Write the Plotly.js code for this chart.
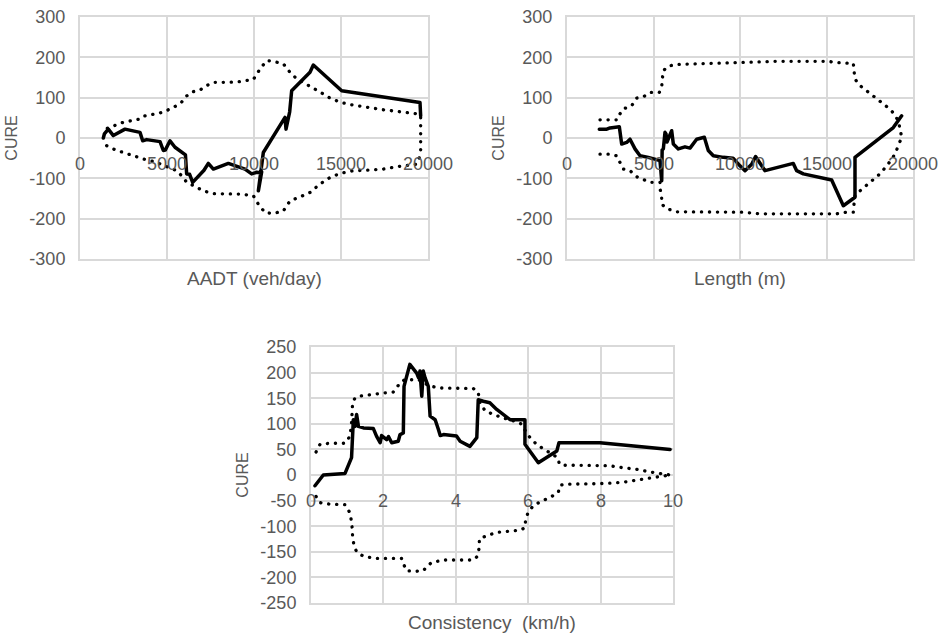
<!DOCTYPE html>
<html>
<head>
<meta charset="utf-8">
<script src="https://cdn.plot.ly/plotly-3.0.1.min.js"></script>
<style>
html,body{margin:0;padding:0;background:#fff;}
#chart{width:943px;height:635px;}
#chart path.js-line{stroke-linecap:round;stroke-linejoin:round;}
</style>
</head>
<body>
<div id="chart"></div>
<script>
// ---- AADT panel ----
const aadtX = [1341,1400,1628,1916,2586,3448,3602,3831,4598,4789,4900,5172,5460,5939,6060,6130,6300,6475,6897,7126,7375,7663,8525,9483,9866,10153,10400,10440,10250,10536,11782,11839,12050,12164,13218,13410,15040,19540,19578];
const aadtY = [0,10,22,6,22,14,-7,-4,-9,-31,-30,-7,-23,-40,-42,-89,-90,-110,-89,-80,-63,-77,-63,-77,-89,-85,-86,-84,-131,-36,51,22,65,117,163,181,117,88,55];
const aadtUpX = [1571,2011,2490,2969,3448,3640,4119,4598,4981,5460,5843,6034,6418,6897,7280,7663,8429,9195,9962,10345,10728,11111,11686,12069,12452,12835,13314,13793,14368,14943,15517,16475,17433,18391,19349,19578,19578,19578,19578];
const aadtUpY = [24,31,39,43,47,54,57,62,68,78,89,101,114,119,130,138,138,140,145,171,192,190,184,163,147,138,126,114,99,89,83,76,70,65,60,56,27,-15,-40];
const aadtLoX = [1533,2011,2490,3065,3640,4310,4981,5556,5939,6130,6513,7088,7663,8429,9195,9962,10249,10632,11111,11686,12069,12644,13218,13793,14368,14943,15709,16475,17433,18391,19349,19578];
const aadtLoY = [-19,-29,-36,-44,-52,-59,-70,-81,-98,-110,-118,-131,-138,-138,-139,-143,-164,-185,-187,-181,-156,-146,-135,-114,-98,-88,-81,-80,-77,-70,-65,-40];

// ---- Length panel ----
const lenX = [1867,2300,2486,3024,3160,3449,3642,3931,4220,4700,5376,5474,5500,5569,5664,5723,5780,6051,6147,6436,6821,7110,7495,7938,8168,8457,9035,9600,10000,10289,10675,10900,11445,13081,13275,13661,15299,15684,15973,16647,16647,18862,19345];
const lenY = [22,22,25,28,-15,-11,-3,-27,-44,-48,-56,-106,-30,-27,14,10,-10,18,-15,-27,-22,-25,-3,2,-31,-44,-48,-50,-69,-81,-65,-46,-81,-63,-81,-89,-104,-143,-168,-147,-48,26,55];
const lenUpX = [1908,2445,2908,3064,3254,3738,4029,4412,4798,5335,5472,5510,5569,5857,6243,6725,8000,9000,10192,11156,12000,13000,14000,15106,15588,16550,16590,16647,16936,17322,17707,18092,18478,18825,19150,19345,19150];
const lenUpY = [45,45,45,60,72,80,99,102,113,113,125,146,167,178,182,183,185,186,187,190,190,190,190,190,187,185,167,146,130,117,105,92,78,64,43,2,-19];
const lenLoX = [1908,2445,2871,3064,3254,3642,4029,4798,5376,5376,5472,5472,5761,6340,8000,10192,11156,13000,15588,16165,16550,16590,16647,16936,17418,17707,18092,18574,18960,19150];
const lenLoY = [-40,-40,-44,-60,-77,-81,-96,-110,-110,-126,-143,-164,-175,-183,-184,-184,-188,-188,-188,-184,-184,-164,-143,-131,-114,-102,-89,-64,-40,-19];

// ---- Consistency panel ----
const conX = [0.11,0.34,0.94,1.12,1.17,1.22,1.26,1.31,1.45,1.72,1.81,1.91,1.95,2.09,2.14,2.23,2.41,2.46,2.55,2.57,2.73,2.92,2.97,3.01,3.06,3.10,3.15,3.24,3.29,3.43,3.52,3.57,3.66,3.93,4.02,4.12,4.39,4.58,4.62,4.76,4.94,5.13,5.50,5.91,5.91,6.28,6.79,6.85,7.98,9.92];
const conY = [-21,0,3,34,108,95,118,95,92,91,76,63,77,69,75,63,66,79,82,173,216,199,190,203,154,203,190,173,115,108,89,77,79,76,76,66,56,73,147,144,141,128,108,108,60,24,47,63,63,50];
const conUpX = [0.14,0.25,0.52,0.94,1.08,1.12,1.15,1.22,1.35,1.63,2.0,2.27,2.50,2.60,2.78,2.97,3.06,3.24,3.52,4.02,4.48,4.62,4.65,4.81,5.04,5.27,5.50,5.80,5.96,6.05,6.23,6.46,6.69,6.83,6.86,6.97,7.43,7.89,8.26,8.63,9.0,9.36,9.73,9.92];
const conUpY = [45,60,62,62,76,102,141,151,154,157,160,162,183,186,186,186,183,175,170,169,169,162,144,125,118,112,108,100,82,73,60,49,40,32,21,19,19,19,18,14,11,6,1,0];
const conLoX = [0.14,0.25,0.52,0.94,1.06,1.12,1.14,1.15,1.19,1.26,1.45,1.81,2.27,2.50,2.57,2.64,2.92,3.10,3.20,3.33,3.66,4.02,4.48,4.58,4.65,4.65,4.81,5.13,5.50,5.77,5.91,5.93,6.0,6.14,6.37,6.60,6.83,6.88,7.02,7.43,7.89,8.26,8.63,9.0,9.36,9.73,9.92];
const conLoY = [-42,-54,-57,-58,-72,-90,-106,-122,-138,-150,-159,-163,-163,-163,-176,-187,-188,-187,-179,-171,-166,-166,-166,-160,-142,-125,-120,-112,-109,-108,-103,-86,-73,-60,-51,-44,-34,-20,-18,-18,-17,-16,-14,-10,-6,-2,0];

// ---- tick labels & titles ----
const topXTicks = [0,5000,10000,15000,20000];
const topYTicks = [-300,-200,-100,0,100,200,300];
const botXTicks = [0,2,4,6,8,10];
const botYTicks = [-250,-200,-150,-100,-50,0,50,100,150,200,250];
const xTitles = ['AADT (veh/day)','Length (m)','Consistency  (km/h)'];
const yTitle = 'CURE';

const W = 943, H = 635;
const FONT = 'Liberation Sans, Arial, sans-serif';
const GRAY = '#595959', GRID = '#d9d9d9';
const GW = 2;
const TICKSIZE = 18;

function px(a,b){return [a/W,b/W];}
function py(top,bottom){return [(H-bottom)/H,(H-top)/H];}

const dom = {
  x1: px(80,428), y1: py(17,259),
  x2: px(567,913), y2: py(17,259),
  x3: px(311,673), y3: py(347,603)
};

const solid = {color:'#000', width:3.5};
const dotted = {color:'#000', width:3.3, dash:'0.2px,7.8px'};

function tr(x,y,xa,ya,line){return {x:x,y:y,xaxis:xa,yaxis:ya,mode:'lines',line:line,hoverinfo:'skip',showlegend:false};}

const data = [
  tr(aadtUpX,aadtUpY,'x','y',dotted), tr(aadtLoX,aadtLoY,'x','y',dotted), tr(aadtX,aadtY,'x','y',solid),
  tr(lenUpX,lenUpY,'x2','y2',dotted), tr(lenLoX,lenLoY,'x2','y2',dotted), tr(lenX,lenY,'x2','y2',solid),
  tr(conUpX,conUpY,'x3','y3',dotted), tr(conLoX,conLoY,'x3','y3',dotted), tr(conX,conY,'x3','y3',solid)
];

function xax(domain, anchor, range, ticks){
  return {domain:domain, range:range, anchor:anchor, tickmode:'array', tickvals:ticks, showticklabels:false,
    showgrid:true, gridcolor:GRID, gridwidth:GW, zeroline:false,
    showline:true, linecolor:GRID, linewidth:GW, mirror:true, ticks:'', fixedrange:true};
}
function yax(domain, anchor, range, ticks){
  return {domain:domain, range:range, anchor:anchor, tickmode:'array', tickvals:ticks, ticktext:ticks.map(String),
    showgrid:true, gridcolor:GRID, gridwidth:GW,
    zeroline:true, zerolinecolor:GRID, zerolinewidth:GW,
    showline:true, linecolor:GRID, linewidth:GW, mirror:true, ticks:'', ticklabelstandoff:9,
    tickfont:{family:FONT,size:TICKSIZE,color:GRAY},
    title:{text:yTitle, font:{family:FONT,size:16,color:GRAY}, standoff:8}, fixedrange:true};
}

// x tick labels sit on the y = 0 line (axis crosses at zero)
function xTickLabels(xa, ya, ticks){
  return ticks.map(function(v){
    return {text:String(v), xref:xa, yref:ya, x:v, y:0, xanchor:'center', yanchor:'middle', yshift:-26,
      showarrow:false, font:{family:FONT,size:TICKSIZE,color:GRAY}};
  });
}

function xTitle(i, xd, ycenterPx){
  return {text:xTitles[i], xref:'paper', yref:'paper', x:(xd[0]+xd[1])/2, y:(H-ycenterPx)/H,
    xanchor:'center', yanchor:'middle', showarrow:false, font:{family:FONT,size:19,color:GRAY}};
}

const layout = {
  width:W, height:H, margin:{l:0,r:0,t:0,b:0}, paper_bgcolor:'#fff', plot_bgcolor:'#fff', showlegend:false,
  xaxis: xax(dom.x1, 'y', [0,20000], topXTicks),  yaxis: yax(dom.y1, 'x', [-300,300], topYTicks),
  xaxis2: xax(dom.x2, 'y2', [0,20000], topXTicks), yaxis2: yax(dom.y2, 'x2', [-300,300], topYTicks),
  xaxis3: xax(dom.x3, 'y3', [0,10], botXTicks),    yaxis3: yax(dom.y3, 'x3', [-250,250], botYTicks),
  annotations: [].concat(
    xTickLabels('x','y',topXTicks), xTickLabels('x2','y2',topXTicks), xTickLabels('x3','y3',botXTicks),
    [xTitle(0, dom.x1, 278), xTitle(1, dom.x2, 278), xTitle(2, dom.x3, 622)]
  )
};

Plotly.newPlot('chart', data, layout, {staticPlot:true, displayModeBar:false});
</script>
</body>
</html>
